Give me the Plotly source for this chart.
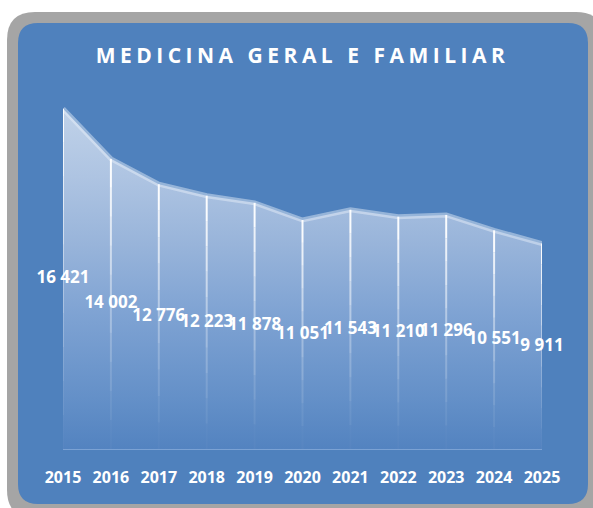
import plotly.graph_objects as go

# ---- data ----
years = [2015, 2016, 2017, 2018, 2019, 2020, 2021, 2022, 2023, 2024, 2025]
values = [16421, 14002, 12776, 12223, 11878, 11051, 11543, 11210, 11296, 10551, 9911]
labels = ["16 421", "14 002", "12 776", "12 223", "11 878", "11 051",
          "11 543", "11 210", "11 296", "10 551", "9 911"]
title_text = "MEDICINA GERAL E FAMILIAR"

# ---- geometry (pixels) ----
FW, FH = 593, 508
L, R, T, B = 63, 51, 76, 59
PW, PH = FW - L - R, FH - T - B


def px(x):
    return (x - L) / PW


def py(y):
    return (FH - B - y) / PH


def rrect(x0, y0, x1, y1, r):
    pts = [
        f"M {px(x0 + r)} {py(y0)}",
        f"L {px(x1 - r)} {py(y0)}",
        f"Q {px(x1)} {py(y0)} {px(x1)} {py(y0 + r)}",
        f"L {px(x1)} {py(y1 - r)}",
        f"Q {px(x1)} {py(y1)} {px(x1 - r)} {py(y1)}",
        f"L {px(x0 + r)} {py(y1)}",
        f"Q {px(x0)} {py(y1)} {px(x0)} {py(y1 - r)}",
        f"L {px(x0)} {py(y0 + r)}",
        f"Q {px(x0)} {py(y0)} {px(x0 + r)} {py(y0)}",
        "Z",
    ]
    return " ".join(pts)


BG = "#4f81bd"

fig = go.Figure()

# area with vertical gradient
fig.add_trace(go.Scatter(
    x=years, y=values, mode="lines",
    line=dict(color="rgba(235,242,250,0.45)", width=5),
    fill="tozeroy",
    fillgradient=dict(
        type="vertical",
        colorscale=[
            [0.0, "#5383c0"],
            [0.15, "#6490c8"],
            [0.4, "#7fa3d3"],
            [0.6, "#98b4da"],
            [0.8, "#aec4e2"],
            [1.0, "#c0d2e9"],
        ],
    ),
    hoverinfo="skip", showlegend=False,
))

# fading drop lines (error bars in segments)
nseg = 10
for k in range(nseg):
    a = 0.95 * (1 - k / nseg) ** 1.6
    fig.add_trace(go.Scatter(
        x=years, y=[v * (1 - k / nseg) for v in values], mode="markers",
        marker=dict(size=1, color="rgba(0,0,0,0)"),
        error_y=dict(type="data", symmetric=False,
                     array=[0] * len(values),
                     arrayminus=[v / nseg for v in values],
                     width=0, thickness=2,
                     color=f"rgba(255,255,255,{a:.3f})"),
        hoverinfo="skip", showlegend=False,
    ))

# data labels at half height
fig.add_trace(go.Scatter(
    x=years, y=[v / 2 for v in values], mode="text",
    text=labels, textposition="middle center",
    textfont=dict(family="Open Sans", size=17, color="white", weight="bold"),
    hoverinfo="skip", showlegend=False, cliponaxis=False,
))

shapes = [
    dict(type="path", xref="paper", yref="paper", layer="below",
         path=rrect(7, 12, 604, 518, 28), fillcolor="#a5a5a5",
         line=dict(width=0)),
    dict(type="path", xref="paper", yref="paper", layer="below",
         path=rrect(18, 23, 588, 504, 20), fillcolor=BG,
         line=dict(width=0)),
]

fig.update_layout(
    width=FW, height=FH,
    margin=dict(l=L, r=R, t=T, b=B, pad=0),
    paper_bgcolor="white",
    plot_bgcolor="rgba(0,0,0,0)",
    shapes=shapes,
    title=dict(
        text=title_text,
        font=dict(family="Open Sans", size=21, color="white", weight="bold"),
        x=0.5, xref="paper", xanchor="center",
        y=(FH - 56) / FH, yref="container", yanchor="middle",
    ),
    xaxis=dict(
        range=[years[0], years[-1]],
        tickmode="array", tickvals=years, ticktext=[str(y) for y in years],
        tickfont=dict(family="Open Sans", size=16, color="white", weight="bold"),
        showgrid=False, zeroline=False,
        showline=True, linecolor="#7ba2d4", linewidth=1,
        ticks="", ticklabelstandoff=14,
    ),
    yaxis=dict(range=[0, 18000], visible=False, showgrid=False, zeroline=False),
)

post = ("document.body.style.margin='0';"
        "document.querySelectorAll('.gtitle').forEach(function(e){"
        "e.style.letterSpacing='4.5px';});")
fig.write_html("out.html", post_script=post,
               config={"displayModeBar": False, "staticPlot": True})
